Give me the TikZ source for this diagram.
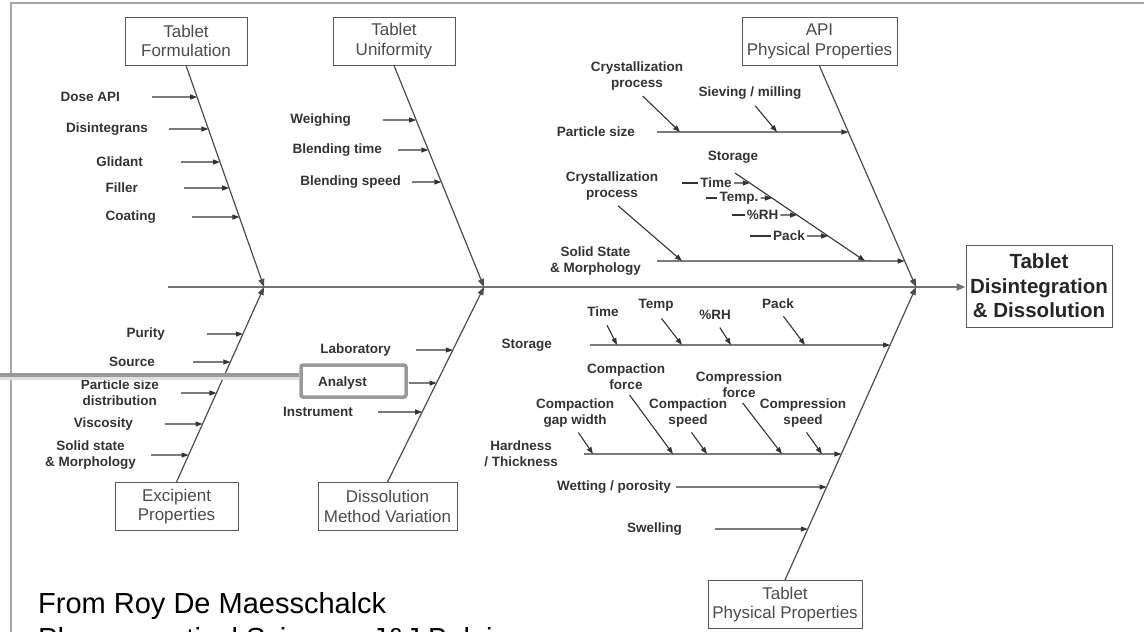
\documentclass[tikz,border=0pt]{standalone}
\usepackage{fontspec}
\setmainfont{Liberation Sans}
\usetikzlibrary{arrows.meta, calc}

\begin{document}
\begin{tikzpicture}[x=1pt, y=-1pt,
  box/.style={draw=black!65, line width=1pt, fill=white, text=black!70,
    font=\fontsize{17}{19.5}\selectfont, align=center, minimum height=48pt, inner sep=2pt},
  lbl/.style={font=\fontsize{13.5}{16}\selectfont\bfseries, text=black!80, align=center, inner sep=0pt},
  bone/.style={draw=black!70, line width=1.2pt, -{Triangle[length=8pt, width=6pt]}},
  sub/.style={draw=black!80, line width=1.1pt, -{Triangle[length=7pt, width=5pt]}},
  spine/.style={draw=black!55, line width=2pt, -{Triangle[length=9pt, width=7pt]}}]
  \useasboundingbox (0,0) rectangle (1144,632);
  \clip (0,0) rectangle (1144,632);
  % Frame
  \draw[black!35, line width=2pt] (11,3) rectangle (1200,700);
  % Spine and effect
  \coordinate (tail) at (168,287);
  \node[box, font=\fontsize{20.5}{24.5}\selectfont\bfseries, text=black!85,
    minimum width=146pt, minimum height=82pt] (eff) at (1039,286)
    {Tablet\\Disintegration\\\& Dissolution};
  \draw[spine] (tail) -- (tail -| eff.west);
  \coordinate (j1) at (264,287);
  \coordinate (j2) at (484,287);
  \coordinate (j3) at (916,287);
  % Categories
  \node[box, minimum width=122pt] (tf) at (186,41) {Tablet\\Formulation};
  \node[box, minimum width=122pt] (tu) at (394,41) {Tablet\\Uniformity};
  \node[box, minimum width=155pt] (api) at (819.5,41.5) {API\\Physical Properties};
  \node[box, minimum width=123pt] (ex) at (176.5,506.5) {Excipient\\Properties};
  \node[box, minimum width=139pt] (dm) at (387.5,506.5) {Dissolution\\Method Variation};
  \node[box, minimum width=154pt] (tp) at (785,604.5) {Tablet\\Physical Properties};
  % Bones
  \foreach \b/\j in {tf/j1, tu/j2, api/j3} \draw[bone] (\b.south) -- (\j);
  \foreach \b/\j in {ex/j1, dm/j2, tp/j3} \draw[bone] (\b.north) -- (\j);
  % Tablet formulation
  \foreach \txt/\y/\xe/\gap [count=\i] in {Dose API/97/120/32, Disintegrans/129/148/21,
      Glidant/162/143/38, Filler/188/138/46, Coating/217/156/36} {
    \node[lbl, anchor=east] (tf\i) at (\xe,\y) {\txt};
    \draw[sub, shorten <=\gap pt] (tf\i.east) -- (intersection of tf.south--j1 and tf\i.west--tf\i.east);
  }
  % Tablet uniformity
  \foreach \txt/\y/\xe/\gap [count=\i] in {Weighing/120/351/32, Blending time/150/382/16,
      Blending speed/182/401/11} {
    \node[lbl, anchor=east] (tu\i) at (\xe,\y) {\txt};
    \draw[sub, shorten <=\gap pt] (tu\i.east) -- (intersection of tu.south--j2 and tu\i.west--tu\i.east);
  }
  % Excipient properties
  \foreach \txt/\y/\xe/\gap [count=\i] in {Purity/334/165/42, Source/362/155/38,
      Particle size\\distribution/393/159/22, Viscosity/424/133/32,
      Solid state\\\& Morphology/455/136/15} {
    \node[lbl, anchor=east] (ex\i) at (\xe,\y) {\txt};
    \draw[sub, shorten <=\gap pt] (ex\i.east) -- (intersection of ex.north--j1 and ex\i.west--ex\i.east);
  }
  % Dissolution method
  \foreach \txt/\y/\xe/\gap [count=\i] in {Laboratory/350/391/25, Analyst/383/367/42,
      Instrument/412/353/25} {
    \node[lbl, anchor=east] (dm\i) at (\xe,\y) {\txt};
    \draw[sub, shorten <=\gap pt] (dm\i.east) -- (intersection of dm.north--j2 and dm\i.west--dm\i.east);
  }
  % API physical properties
  \node[lbl, anchor=east] (aps) at (635,132) {Particle size};
  \draw[sub, shorten <=22pt] (aps.east) -- (intersection of api.south--j3 and aps.west--aps.east);
  \node[lbl, anchor=east] (ass) at (641,261) {Solid State\\\& Morphology};
  \draw[sub, shorten <=16pt] (ass.east) -- (intersection of api.south--j3 and ass.west--ass.east);
  \node[lbl] (acp1) at (637,76) {Crystallization\\process};
  \node[lbl] (asm) at (750,93) {Sieving / milling};
  \node[lbl] (acp2) at (612,186) {Crystallization\\process};
  \coordinate (ae1) at (680,132);
  \coordinate (ae2) at (777,132);
  \coordinate (ae3) at (682,261);
  \draw[sub, shorten <=8pt] (acp1.south) -- (ae1);
  \draw[sub, shorten <=8pt] (asm.south) -- (ae2);
  \draw[sub, shorten <=8pt] (acp2.south) -- (ae3);
  \node[lbl] (ast) at (733,157) {Storage};
  \coordinate (stA) at (735,173);
  \coordinate (stB) at (865,261);
  \draw[sub] (stA) -- (stB);
  \foreach \txt/\x/\y/\len [count=\i] in {Time/716/183/16, Temp./739/198/11,
      \%RH/762.5/215/13, Pack/789/236/21} {
    \node[lbl] (ast\i) at (\x,\y) {\txt};
    \draw[black!80, line width=1.1pt] ([xshift=-2pt]ast\i.west) -- ++(-\len,0);
    \draw[sub, shorten <=2pt] (ast\i.east) -- (intersection of stA--stB and ast\i.west--ast\i.east);
  }
  % Tablet physical properties
  \node[lbl, anchor=east] (pst) at (552,345) {Storage};
  \draw[sub, shorten <=38pt] (pst.east) -- (intersection of tp.north--j3 and pst.west--pst.east);
  \foreach \txt/\x/\y/\xe [count=\i] in {Time/603/312/617, Temp/656/305/682,
      \%RH/715/315/731, Pack/778/304/805} {
    \node[lbl] (pst\i) at (\x,\y) {\txt};
    \coordinate (pse\i) at (\xe,345);
    \draw[sub, shorten <=9pt] (pst\i.south) -- (pse\i);
  }
  \node[lbl, anchor=east] (phd) at (558,454) {Hardness\\/ Thickness};
  \draw[sub, shorten <=26pt] (phd.east) -- (intersection of tp.north--j3 and phd.west--phd.east);
  \foreach \txt/\x/\y/\xe [count=\i] in {Compaction\\gap width/575/413/593,
      Compaction\\force/626/377/673, Compaction\\speed/688/413/707,
      Compression\\force/739/385/782, Compression\\speed/803/413/822} {
    \node[lbl] (phd\i) at (\x,\y) {\txt};
    \coordinate (phe\i) at (\xe,454);
    \draw[sub, shorten <=6pt] (phd\i.south) -- (phe\i);
  }
  \node[lbl, anchor=east] (pwp) at (671,487) {Wetting / porosity};
  \draw[sub, shorten <=5pt] (pwp.east) -- (intersection of tp.north--j3 and pwp.west--pwp.east);
  \node[lbl, anchor=east] (psw) at (682,529) {Swelling};
  \draw[sub, shorten <=33pt] (psw.east) -- (intersection of tp.north--j3 and psw.west--psw.east);
  % Highlight
  \node[draw=black!40, line width=3.5pt, rounded corners=2pt, minimum width=105pt,
    minimum height=32pt] (hl) at (353.5,381) {};
  \coordinate (lead) at (0,375);
  \draw[black!12, line width=4pt] ([yshift=-3pt]lead) -- ([yshift=-3pt]lead -| hl.west);
  \draw[black!40, line width=3.5pt] (lead) -- (lead -| hl.west);
  % Source
  \node[anchor=base west, inner sep=0pt, font=\fontsize{29}{35}\selectfont] (src1) at (38,613)
    {From Roy De Maesschalck};
  \node[anchor=base west, inner sep=0pt, font=\fontsize{29}{35}\selectfont] (src2) at (38,648)
    {Pharmaceutical Sciences J\&J Belgium};
\end{tikzpicture}
\end{document}
